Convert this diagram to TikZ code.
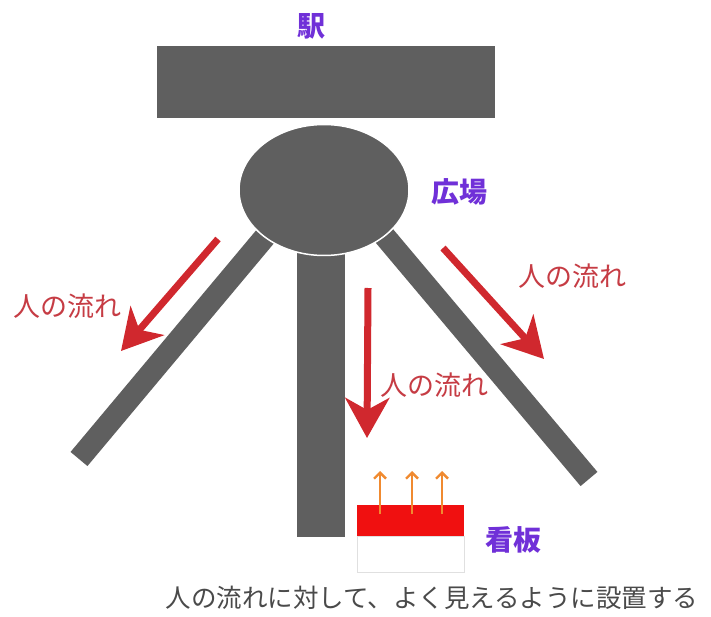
\documentclass[tikz,border=0pt]{standalone}
\usepackage{fontspec}
\newfontfamily\jp{Noto Sans CJK JP}
\usetikzlibrary{arrows.meta,shapes.geometric}
\definecolor{road}{HTML}{5F5F5F}
\definecolor{flow}{HTML}{D0282E}
\definecolor{flowtxt}{HTML}{C63C44}
\definecolor{lbl}{HTML}{7030D8}
\definecolor{sig}{HTML}{F01010}
\definecolor{ray}{HTML}{F08A30}
\definecolor{note}{HTML}{4A4A4A}
\tikzset{
  roadline/.style={draw=road,line width=22pt,line cap=butt},
  flowarrow/.style={draw=flow,line width=7pt,-{Stealth[length=40pt,width=44pt,inset=12pt]}},
  flowlabel/.style={text=flowtxt,font=\jp\fontsize{27}{30}\selectfont,inner sep=0pt},
  placelabel/.style={text=lbl,font=\jp\bfseries\fontsize{28}{32}\selectfont,inner sep=0pt},
  rayarrow/.style={draw=ray,line width=2.4pt,-{Straight Barb[length=6pt,width=12pt]}},
}
\begin{document}
\begin{tikzpicture}[x=1pt,y=-1pt]
\useasboundingbox[fill=white] (0,0) rectangle (711,617);
% roads
\coordinate (lt) at (290,207);
\coordinate (lb) at (79,459);
\coordinate (rt) at (360,207);
\coordinate (rb) at (589,479);
\draw[roadline] (lt) -- (lb);
\draw[roadline] (rt) -- (rb);
\node[fill=road,minimum width=48pt,minimum height=300pt,inner sep=0pt,anchor=south] (croad) at (321,537) {};
% station
\node[fill=road,minimum width=338pt,minimum height=72pt,inner sep=0pt] (station) at (326,82) {};
\node[placelabel] (stationlbl) at (311,26) {駅};
% plaza
\node[ellipse,fill=road,draw=white,line width=1.5pt,minimum width=170pt,minimum height=131pt,inner sep=0pt] (plaza) at (324,190) {};
\node[placelabel] (plazalbl) at (459,192) {広場};
% flows
\coordinate (fl1) at (218,239);
\coordinate (fl2) at (121,351);
\draw[flowarrow] (fl1) -- (fl2);
\node[flowlabel] (fltxt) at (67,306) {人の流れ};
\coordinate (fr1) at (443,248);
\coordinate (fr2) at (544,359);
\draw[flowarrow] (fr1) -- (fr2);
\node[flowlabel] (frtxt) at (572,276) {人の流れ};
\coordinate (fm1) at (368,288);
\coordinate (fm2) at (367,438);
\draw[flowarrow] (fm1) -- (fm2);
\node[flowlabel] (fmtxt) at (434,385) {人の流れ};
% sign
\node[draw=black!12,fill=white,minimum width=107pt,minimum height=36pt,inner sep=0pt,anchor=north west] (signbase) at (357,536) {};
\node[fill=sig,minimum width=107pt,minimum height=31pt,inner sep=0pt,anchor=north west] (sign) at (357,505) {};
\coordinate (r1a) at (380,514); \coordinate (r1b) at (380,471);
\coordinate (r2a) at (412,514); \coordinate (r2b) at (412,471);
\coordinate (r3a) at (442,514); \coordinate (r3b) at (442,471);
\draw[rayarrow] (r1a) -- (r1b);
\draw[rayarrow] (r2a) -- (r2b);
\draw[rayarrow] (r3a) -- (r3b);
\node[placelabel] (signlbl) at (513,540) {看板};
\node[text=note,font=\jp\fontsize{25.5}{28}\selectfont,inner sep=0pt] (notetxt) at (432,598) {人の流れに対して、よく見えるように設置する};
\end{tikzpicture}
\end{document}
